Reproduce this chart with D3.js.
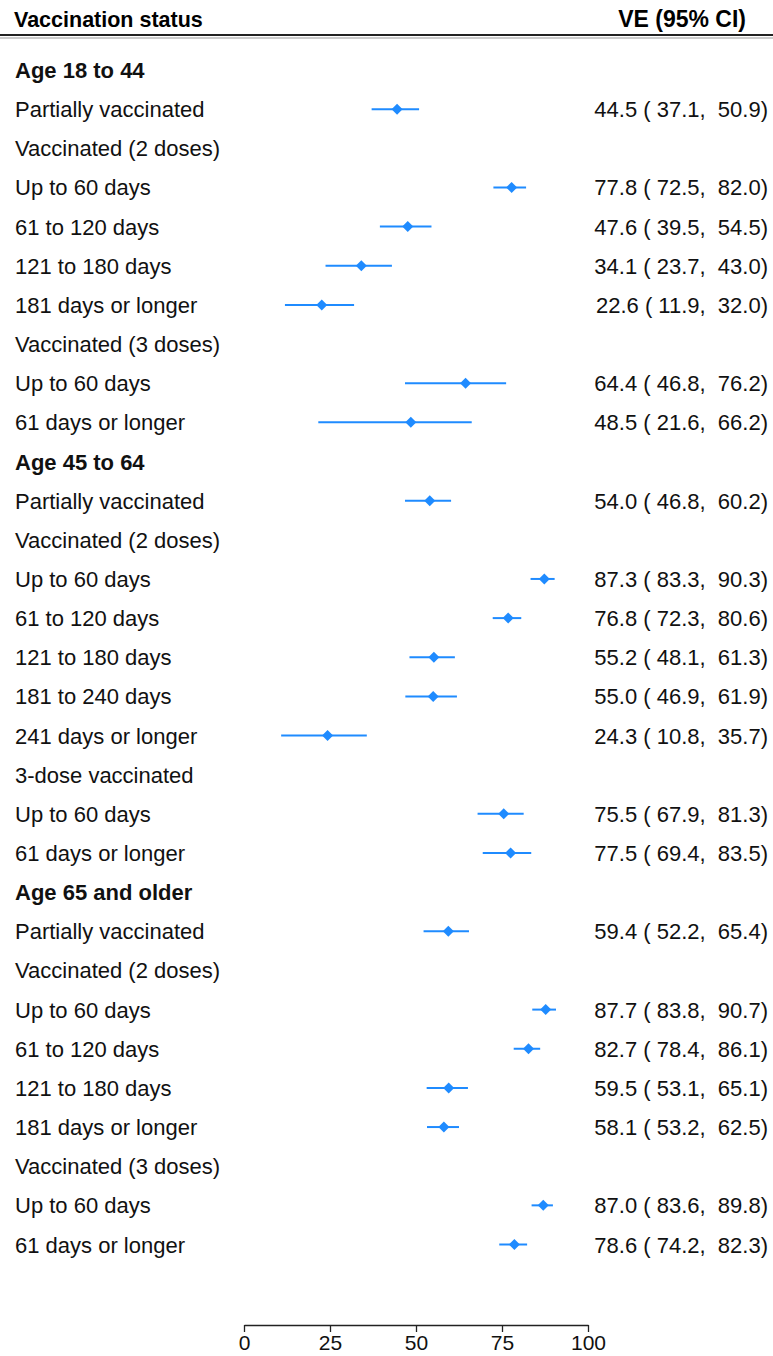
<!DOCTYPE html>
<html>
<head>
<meta charset="utf-8">
<script src="https://cdn.jsdelivr.net/npm/d3@7"></script>
<style>
  html, body { margin: 0; padding: 0; background: #fff; }
  svg { display: block; font-family: "Liberation Sans", Arial, sans-serif; }
</style>
</head>
<body>
<svg id="chart" width="773" height="1356"></svg>
<script>
// Row labels, top to bottom. Kind: "group" = bold age heading, "sub" = plain sub-heading, "row" = estimate row
const labels = [
  "Age 18 to 44", "Partially vaccinated", "Vaccinated (2 doses)", "Up to 60 days", "61 to 120 days",
  "121 to 180 days", "181 days or longer", "Vaccinated (3 doses)", "Up to 60 days", "61 days or longer",
  "Age 45 to 64", "Partially vaccinated", "Vaccinated (2 doses)", "Up to 60 days", "61 to 120 days",
  "121 to 180 days", "181 to 240 days", "241 days or longer", "3-dose vaccinated", "Up to 60 days",
  "61 days or longer",
  "Age 65 and older", "Partially vaccinated", "Vaccinated (2 doses)", "Up to 60 days", "61 to 120 days",
  "121 to 180 days", "181 days or longer", "Vaccinated (3 doses)", "Up to 60 days", "61 days or longer"
];
const kinds = [
  "group", "row", "sub", "row", "row", "row", "row", "sub", "row", "row",
  "group", "row", "sub", "row", "row", "row", "row", "row", "sub", "row", "row",
  "group", "row", "sub", "row", "row", "row", "row", "sub", "row", "row"
];
// Vaccine effectiveness (%) and 95% CI bounds; null where the row is a heading
const ve = [
  null, 44.5, null, 77.8, 47.6, 34.1, 22.6, null, 64.4, 48.5,
  null, 54.0, null, 87.3, 76.8, 55.2, 55.0, 24.3, null, 75.5, 77.5,
  null, 59.4, null, 87.7, 82.7, 59.5, 58.1, null, 87.0, 78.6
];
const lower = [
  null, 37.1, null, 72.5, 39.5, 23.7, 11.9, null, 46.8, 21.6,
  null, 46.8, null, 83.3, 72.3, 48.1, 46.9, 10.8, null, 67.9, 69.4,
  null, 52.2, null, 83.8, 78.4, 53.1, 53.2, null, 83.6, 74.2
];
const upper = [
  null, 50.9, null, 82.0, 54.5, 43.0, 32.0, null, 76.2, 66.2,
  null, 60.2, null, 90.3, 80.6, 61.3, 61.9, 35.7, null, 81.3, 83.5,
  null, 65.4, null, 90.7, 86.1, 65.1, 62.5, null, 89.8, 82.3
];
const tickValues = [0, 25, 50, 75, 100];

const rows = labels.map((label, i) => ({
  label, kind: kinds[i], ve: ve[i], lo: lower[i], hi: upper[i]
}));

const svg = d3.select("#chart");
const blue = "#1f8bff";
const fontSize = 22;

const x = d3.scaleLinear().domain([0, 100]).range([244, 588]);
const y = d3.scaleLinear().domain([0, rows.length - 1]).range([70, 1244.5]);

// Column headers
svg.append("text").attr("x", 14).attr("y", 27)
  .attr("font-size", 21.5).attr("font-weight", "bold").text("Vaccination status");
svg.append("text").attr("x", 746).attr("y", 27).attr("text-anchor", "end")
  .attr("font-size", 23).attr("font-weight", "bold").text("VE (95% CI)");

// Double rule under the header
svg.append("line").attr("x1", 0).attr("x2", 773).attr("y1", 35).attr("y2", 35)
  .attr("stroke", "#222").attr("stroke-width", 2);
svg.append("line").attr("x1", 0).attr("x2", 773).attr("y1", 38).attr("y2", 38)
  .attr("stroke", "#999").attr("stroke-width", 1);

// Row labels
svg.append("g").selectAll("text").data(rows).join("text")
  .attr("x", 15)
  .attr("y", (d, i) => y(i) + 8)
  .attr("font-size", fontSize)
  .attr("font-weight", d => d.kind === "group" ? "bold" : "normal")
  .attr("fill", "#111")
  .text(d => d.label);

const est = rows.map((d, i) => ({ ...d, i })).filter(d => d.kind === "row");
const fmt = d3.format(".1f");

// Estimate text column
svg.append("g").selectAll("text").data(est).join("text")
  .attr("x", 768)
  .attr("y", d => y(d.i) + 8)
  .attr("text-anchor", "end")
  .attr("font-size", fontSize)
  .attr("fill", "#111")
  .style("white-space", "pre")
  .attr("xml:space", "preserve")
  .text(d => `${fmt(d.ve)} ( ${fmt(d.lo)},  ${fmt(d.hi)})`);

// Confidence intervals
svg.append("g").selectAll("line").data(est).join("line")
  .attr("x1", d => x(d.lo)).attr("x2", d => x(d.hi))
  .attr("y1", d => y(d.i)).attr("y2", d => y(d.i))
  .attr("stroke", blue).attr("stroke-width", 2);

// Point estimates as diamonds
svg.append("g").selectAll("path").data(est).join("path")
  .attr("transform", d => `translate(${x(d.ve)},${y(d.i)})`)
  .attr("d", "M0,-5.5L5.5,0L0,5.5L-5.5,0Z")
  .attr("fill", blue);

// x axis
const axis = svg.append("g").attr("transform", "translate(0,1325)")
  .call(d3.axisBottom(x).tickValues(tickValues).tickSize(7).tickSizeOuter(0).tickPadding(3));
axis.selectAll("text").attr("font-size", 21).attr("fill", "#111")
  .style("font-family", "'Liberation Sans', Arial, sans-serif");
axis.selectAll("line, path").attr("stroke", "#222").attr("stroke-width", 1.3);
</script>
</body>
</html>
